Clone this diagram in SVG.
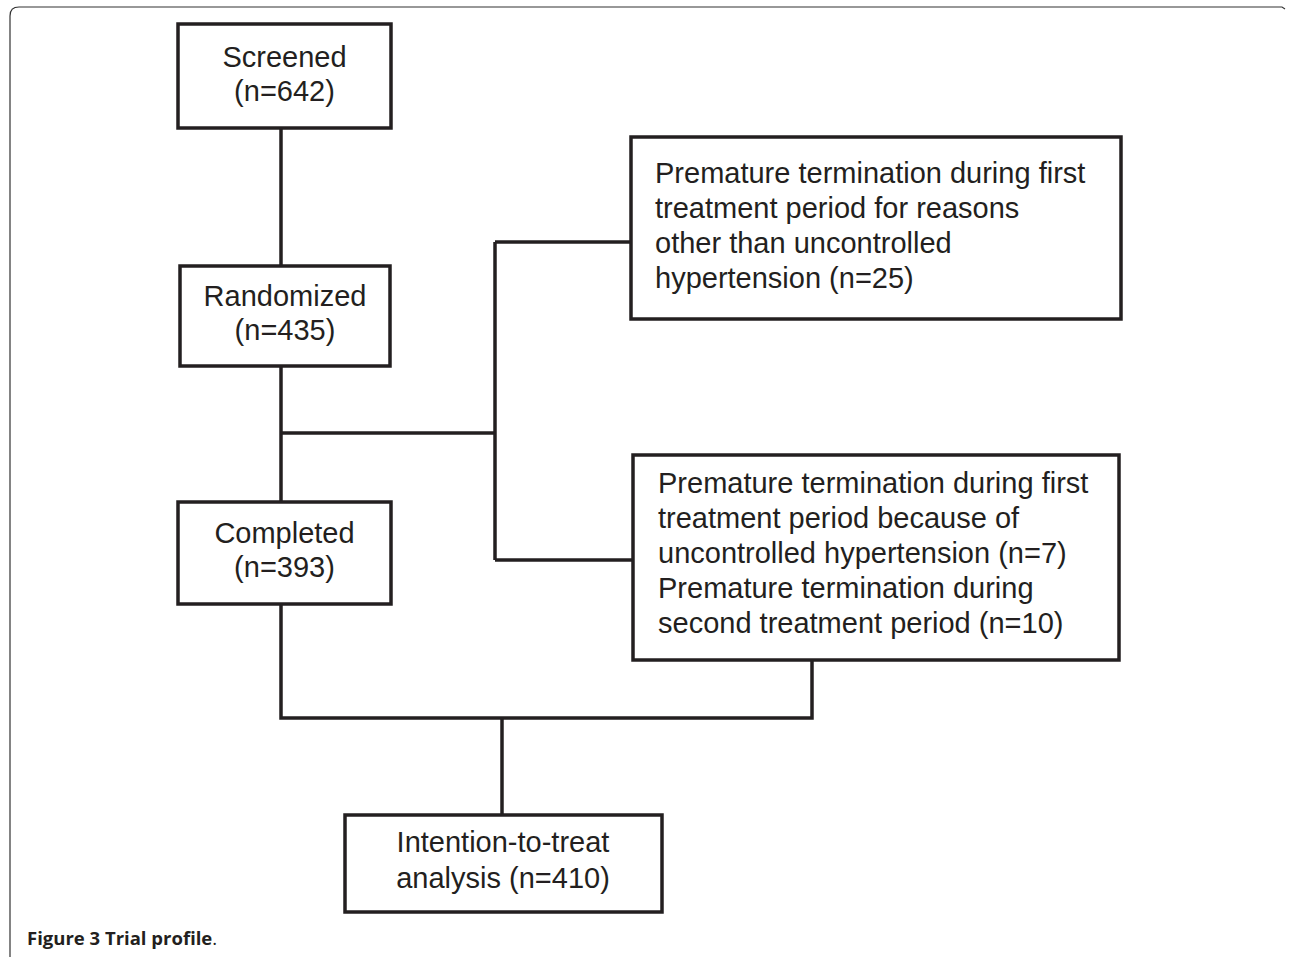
<svg xmlns="http://www.w3.org/2000/svg" width="1290" height="957" viewBox="0 0 1290 957">
<style>
.box{fill:#fff;stroke:#231f20;stroke-width:3.5}
.ln{fill:none;stroke:#231f20;stroke-width:3.5}
.t{font-family:"Liberation Sans",Arimo,Arial,Helvetica,sans-serif;font-size:29px;fill:#231f20}
.c{text-anchor:middle}
.frame{fill:none;stroke:#333;stroke-width:1.2}
.cap{font-family:"Open Sans","Liberation Sans",sans-serif;font-size:18.5px;fill:#231f20}
</style>
<rect width="1290" height="957" fill="#fff"/>
<path class="frame" d="M10,957 V16 Q10,7 19,7 H1282 l3,2"/>
<g id="connectors">
<path class="ln" d="M281,128 V266"/>
<path class="ln" d="M281,366 V502"/>
<path class="ln" d="M281,433 H495"/>
<path class="ln" d="M495,242 V560"/>
<path class="ln" d="M495,242 H631"/>
<path class="ln" d="M495,560 H633"/>
<path class="ln" d="M281,604 V718 H812 V660"/>
<path class="ln" d="M502,718 V815"/>
</g>
<g id="screened">
<rect class="box" x="178" y="24" width="213" height="104"/>
<text class="t c" x="284.5" y="67">Screened</text>
<text class="t c" x="284.5" y="101">(n=642)</text>
</g>
<g id="randomized">
<rect class="box" x="180" y="266" width="210" height="100"/>
<text class="t c" x="285" y="306">Randomized</text>
<text class="t c" x="285" y="340">(n=435)</text>
</g>
<g id="completed">
<rect class="box" x="178" y="502" width="213" height="102"/>
<text class="t c" x="284.5" y="543">Completed</text>
<text class="t c" x="284.5" y="577">(n=393)</text>
</g>
<g id="premature1">
<rect class="box" x="631" y="137" width="490" height="182"/>
<text class="t" x="655" y="183">Premature termination during first</text>
<text class="t" x="655" y="218">treatment period for reasons</text>
<text class="t" x="655" y="253">other than uncontrolled</text>
<text class="t" x="655" y="288">hypertension (n=25)</text>
</g>
<g id="premature2">
<rect class="box" x="633" y="455" width="486" height="205"/>
<text class="t" x="658" y="493">Premature termination during first</text>
<text class="t" x="658" y="528">treatment period because of</text>
<text class="t" x="658" y="563">uncontrolled hypertension (n=7)</text>
<text class="t" x="658" y="598">Premature termination during</text>
<text class="t" x="658" y="633">second treatment period (n=10)</text>
</g>
<g id="itt">
<rect class="box" x="345" y="815" width="317" height="97"/>
<text class="t c" x="503" y="852">Intention-to-treat</text>
<text class="t c" x="503" y="888">analysis (n=410)</text>
</g>
<text class="cap" x="27" y="945"><tspan font-weight="bold">Figure 3 Trial profile</tspan>.</text>
</svg>
